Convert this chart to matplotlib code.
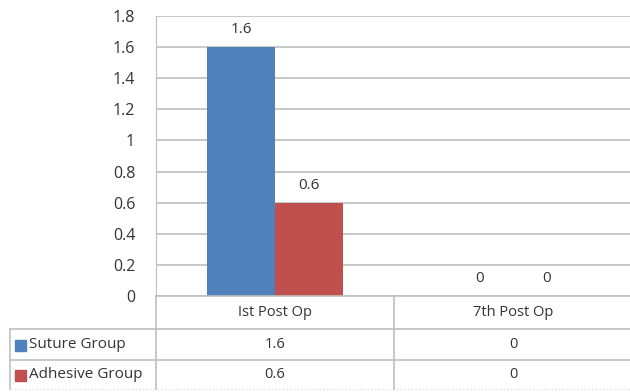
import matplotlib.pyplot as plt
import numpy as np

categories = ['Ist Post Op', '7th Post Op']
series_names = ['Suture Group', 'Adhesive Group']
suture = [1.6, 0]
adhesive = [0.6, 0]
colors = ['#4F81BD', '#C0504D']
yticks = [0, 0.2, 0.4, 0.6, 0.8, 1, 1.2, 1.4, 1.6, 1.8]

plt.rcParams['font.family'] = ['Open Sans', 'DejaVu Sans']
W, H = 630, 392
fig = plt.figure(figsize=(W / 100, H / 100), dpi=100)

# plot area in pixel terms
x0, x1 = 156, 632
ytop, ybot = 16, 296
ax = fig.add_axes([x0 / W, 1 - ybot / H, (x1 - x0) / W, (ybot - ytop) / H])

x = np.arange(len(categories))
bw = 0.285
values = [suture, adhesive]
for i, vals in enumerate(values):
    pos = x + (i - 0.5) * bw
    ax.bar(pos, vals, bw, color=colors[i], zorder=3)
    for p, v in zip(pos, vals):
        ax.text(p, v + 0.065, f'{v:g}', ha='center', va='bottom',
                fontsize=11, color='#333333')

ax.set_xlim(-0.5, len(categories) - 0.5)
ax.set_ylim(0, 1.8)
ax.set_yticks(yticks)
ax.set_yticklabels([f'{t:g}' for t in yticks], fontsize=11.5, color='#333333')
ax.tick_params(axis='y', length=0, pad=15)
ax.set_xticks([])
ax.grid(axis='y', color='#BFBFBF', linewidth=1.2, zorder=0)
for s in ['top', 'right', 'bottom']:
    ax.spines[s].set_visible(False)
ax.spines['left'].set_color('#BFBFBF')

# data table below the plot
def fx(px):
    return px / W

def fy(py):
    return 1 - py / H

line_kw = dict(color='#BFBFBF', linewidth=1.2)
rows = [296, 329, 360, 389]
col_edges = [x0, (x0 + x1) / 2, x1]
fig.add_artist(plt.Line2D([fx(x0), fx(x1)], [fy(rows[0]), fy(rows[0])], **line_kw))
for r in rows[1:3]:
    fig.add_artist(plt.Line2D([fx(10), fx(x1)], [fy(r), fy(r)], **line_kw))
fig.add_artist(plt.Line2D([fx(10), fx(x1)], [fy(rows[3]), fy(rows[3])],
                          color='#DDDDDD', linewidth=1, linestyle=':'))
fig.add_artist(plt.Line2D([fx(10), fx(10)], [fy(rows[1]), fy(rows[3])], **line_kw))
for c in col_edges[:2]:
    fig.add_artist(plt.Line2D([fx(c), fx(c)], [fy(rows[0]), fy(rows[3])], **line_kw))

for j, cat in enumerate(categories):
    cx = (col_edges[j] + col_edges[j + 1]) / 2
    fig.text(fx(cx), fy((rows[0] + rows[1]) / 2), cat, ha='center',
             va='center', fontsize=10.5, color='#333333')
for i, name in enumerate(series_names):
    cy = (rows[i + 1] + rows[i + 2]) / 2
    fig.patches.append(plt.Rectangle((fx(15), fy(cy + 6)), 11 / W, 11 / H,
                                     color=colors[i], transform=fig.transFigure,
                                     figure=fig))
    fig.text(fx(29), fy(cy), name, ha='left', va='center', fontsize=11,
             color='#333333')
    for j, v in enumerate(values[i]):
        cx = (col_edges[j] + col_edges[j + 1]) / 2
        fig.text(fx(cx), fy(cy), f'{v:g}', ha='center', va='center',
                 fontsize=10.5, color='#333333')

fig.savefig('out.png', dpi=100)
